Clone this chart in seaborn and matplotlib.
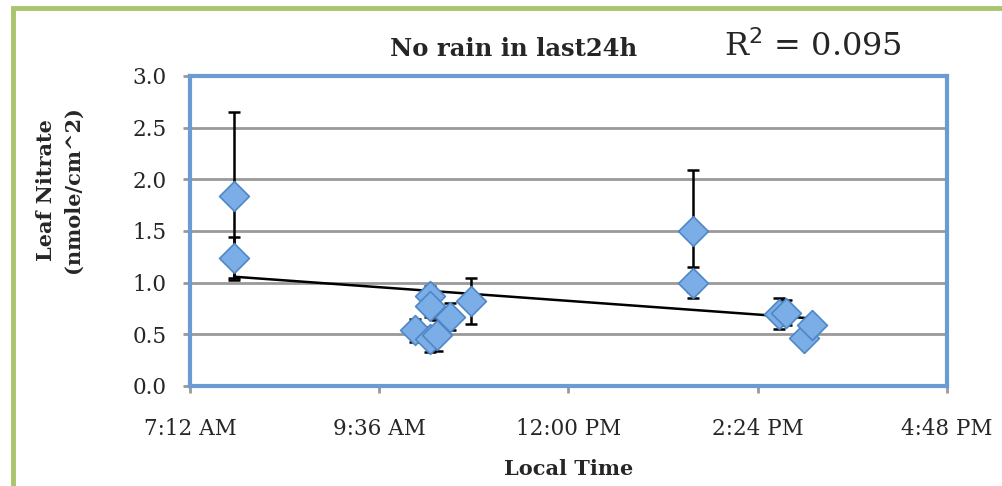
import numpy as np
import pandas as pd
import matplotlib
matplotlib.use("Agg")
import matplotlib.pyplot as plt
import seaborn as sns
from matplotlib.ticker import FuncFormatter
from matplotlib.patches import Rectangle

# local time in hours, leaf nitrate, error (+/-)
hours = [7.76, 7.76, 10.05, 10.25, 10.25, 10.25, 10.33, 10.50, 10.76,
         13.58, 13.58, 14.67, 14.76, 14.99, 15.09]
nitrate = [1.84, 1.24, 0.54, 0.87, 0.77, 0.45, 0.49, 0.67, 0.82,
           1.50, 1.00, 0.70, 0.71, 0.46, 0.59]
err = [0.81, 0.20, 0.11, 0.10, 0.10, 0.12, 0.15, 0.13, 0.22,
       0.59, 0.15, 0.15, 0.12, 0.05, 0.05]
xticks = [7.2, 9.6, 12.0, 14.4, 16.8]
yticks = [0.0, 0.5, 1.0, 1.5, 2.0, 2.5, 3.0]

df = pd.DataFrame({"hour": hours, "nitrate": nitrate, "err": err})

sns.set_style("white")
plt.rcParams['font.family'] = ['DejaVu Serif', 'Liberation Serif']

fig = plt.figure(figsize=(10.02, 4.86), dpi=100)
ax = fig.add_axes([0.1896, 0.2058, 0.7555, 0.638])

fig.patches.append(Rectangle((0.013, -0.1), 1.2, 1.083, transform=fig.transFigure,
                             fill=False, edgecolor='#A8C46C', linewidth=3.5))

for y in yticks[1:-1]:
    ax.axhline(y, color='#999999', linewidth=2, zorder=0)

ax.errorbar(df["hour"], df["nitrate"], yerr=df["err"], fmt='none',
            ecolor='black', elinewidth=1.8, capsize=4.5, capthick=1.8, zorder=2)
sns.regplot(data=df, x="hour", y="nitrate", scatter=False, ci=None, ax=ax,
            line_kws={'color': 'black', 'linewidth': 1.8, 'zorder': 3})
sns.scatterplot(data=df, x="hour", y="nitrate", marker='D', s=230,
                color='#7BAEE6', edgecolor='#4F86C6', linewidth=1.2, ax=ax, zorder=4)

ax.set_xlim(7.2, 16.8)
ax.set_ylim(0, 3.0)
ax.set_xticks(xticks)
ax.set_yticks(yticks)


def fmt_time(h, pos):
    total = int(round(h * 60))
    hh, mm = divmod(total, 60)
    suffix = 'AM' if hh < 12 else 'PM'
    h12 = hh % 12
    if h12 == 0:
        h12 = 12
    return f"{h12}:{mm:02d} {suffix}"


ax.xaxis.set_major_formatter(FuncFormatter(fmt_time))
ax.yaxis.set_major_formatter(FuncFormatter(lambda v, p: f"{v:.1f}"))
ax.tick_params(axis='both', labelsize=15.5, length=5, width=2, color='#999999',
               direction='out', bottom=True, left=True)
ax.tick_params(axis='x', pad=18)
ax.tick_params(axis='y', pad=12)

for side in ['top', 'right', 'left', 'bottom']:
    ax.spines[side].set_color('#6A9BD2')
    ax.spines[side].set_linewidth(3)

ax.set_xlabel("Local Time", fontsize=15, fontweight='bold')
ax.xaxis.set_label_coords(0.5, -0.235)
ax.set_ylabel("Leaf Nitrate\n(nmole/cm^2)", fontsize=15, fontweight='bold',
              linespacing=1.45)
ax.yaxis.set_label_coords(-0.141, 0.632)

fig.text(0.513, 0.9, "No rain in last24h", fontsize=17.5, fontweight='bold',
         ha='center', va='center')
fig.text(0.811, 0.905, r"R$^2$ = 0.095", fontsize=23, ha='center', va='center')

fig.savefig("out.png", dpi=100)
